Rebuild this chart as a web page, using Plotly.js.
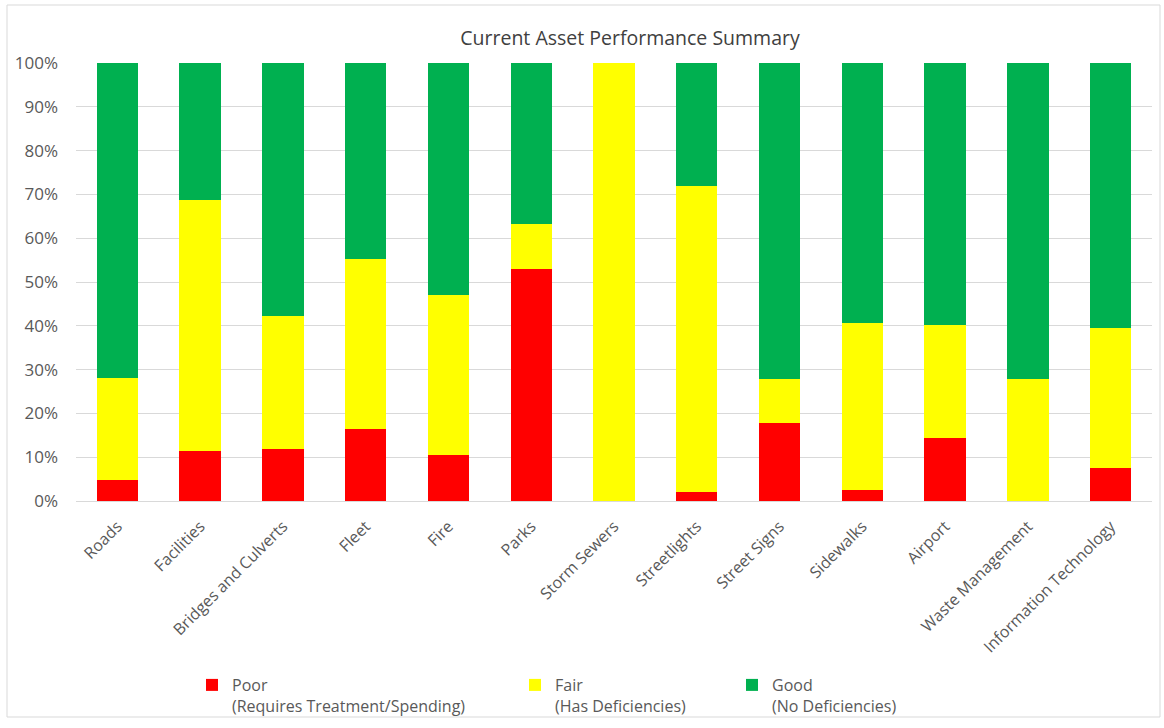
<!DOCTYPE html>
<html>
<head>
<meta charset="utf-8">
<script src="https://cdn.plot.ly/plotly-3.0.1.min.js"></script>
<style>
  html, body { margin: 0; padding: 0; background: #ffffff; }
  #chart { width: 1164px; height: 728px; }
</style>
</head>
<body>
<div id="chart"></div>
<script>
const categories = ["Roads", "Facilities", "Bridges and Culverts", "Fleet", "Fire", "Parks",
  "Storm Sewers", "Streetlights", "Street Signs", "Sidewalks", "Airport",
  "Waste Management", "Information Technology"];
const poor = [0.048, 0.114, 0.119, 0.165, 0.105, 0.529, 0.0, 0.021, 0.177, 0.025, 0.143, 0.0, 0.075];
const fair = [0.232, 0.574, 0.304, 0.387, 0.365, 0.104, 1.0, 0.699, 0.101, 0.382, 0.258, 0.278, 0.320];
const good = [0.720, 0.312, 0.577, 0.448, 0.530, 0.367, 0.0, 0.280, 0.722, 0.593, 0.599, 0.722, 0.605];
const seriesNames = ["Poor<br>(Requires Treatment/Spending)", "Fair<br>(Has Deficiencies)", "Good<br>(No Deficiencies)"];
const yTicks = [0, 0.1, 0.2, 0.3, 0.4, 0.5, 0.6, 0.7, 0.8, 0.9, 1.0];
const yTickText = ["0%", "10%", "20%", "30%", "40%", "50%", "60%", "70%", "80%", "90%", "100%"];

const W = 1164, H = 728;
const M = {l: 76, r: 12, t: 63, b: 227};
const pw = W - M.l - M.r, ph = H - M.t - M.b;
const px = v => (v - M.l) / pw;        // page x pixel -> paper x
const py = v => (H - M.b - v) / ph;    // page y pixel -> paper y
const cx = v => v / W;                 // page x pixel -> container x
const cy = v => 1 - v / H;             // page y pixel -> container y

const textColor = "#595959";
const font = "'Open Sans', Lato, sans-serif";

const traces = [
  {name: seriesNames[0], y: poor, color: "#FF0000", legend: "legend"},
  {name: seriesNames[1], y: fair, color: "#FFFF00", legend: "legend2"},
  {name: seriesNames[2], y: good, color: "#00B050", legend: "legend3"}
].map(s => ({
  type: "bar",
  x: categories,
  y: s.y,
  name: s.name,
  legend: s.legend,
  showlegend: true,
  marker: {color: s.color, line: {width: 0}},
  hoverinfo: "x+y+name"
}));

const legendBase = {
  orientation: "h",
  xref: "container",
  yref: "container",
  yanchor: "top",
  xanchor: "left",
  y: cy(668),
  valign: "top",
  bgcolor: "rgba(0,0,0,0)",
  font: {family: font, size: 16, color: textColor},
  itemwidth: 30,
  visible: true
};

const layout = {
  width: W, height: H,
  margin: M,
  showlegend: true,
  paper_bgcolor: "#ffffff",
  plot_bgcolor: "#ffffff",
  barmode: "stack",
  bargap: 0.5,
  font: {family: font, color: textColor},
  title: {
    text: "Current Asset Performance Summary",
    font: {family: font, size: 19.5, color: "#404040"},
    x: 630 / W, xanchor: "center",
    y: 1 - 38 / H, yanchor: "middle"
  },
  xaxis: {
    type: "category",
    tickangle: -45,
    tickfont: {family: font, size: 16, color: textColor},
    ticklabelstandoff: 12,
    showgrid: false,
    showline: false,
    ticks: "",
    fixedrange: true,
    automargin: false
  },
  yaxis: {
    range: [0, 1],
    tickvals: yTicks,
    ticktext: yTickText,
    tickfont: {family: font, size: 17, color: textColor},
    ticklabelstandoff: 17,
    showgrid: true,
    gridcolor: "#d9d9d9",
    gridwidth: 1,
    zeroline: true,
    zerolinecolor: "#d9d9d9",
    zerolinewidth: 1,
    ticks: "",
    ticklen: 0,
    fixedrange: true,
    automargin: false
  },
  legend: Object.assign({}, legendBase, {x: cx(192)}),
  legend2: Object.assign({}, legendBase, {x: cx(515)}),
  legend3: Object.assign({}, legendBase, {x: cx(732)}),
  shapes: [{
    type: "rect", xref: "paper", yref: "paper",
    x0: px(7), x1: px(1160), y0: py(717), y1: py(5),
    line: {color: "#d9d9d9", width: 1},
    fillcolor: "rgba(0,0,0,0)",
    layer: "below"
  }]
};

Plotly.newPlot("chart", traces, layout, {displayModeBar: false, staticPlot: true});
</script>
</body>
</html>
